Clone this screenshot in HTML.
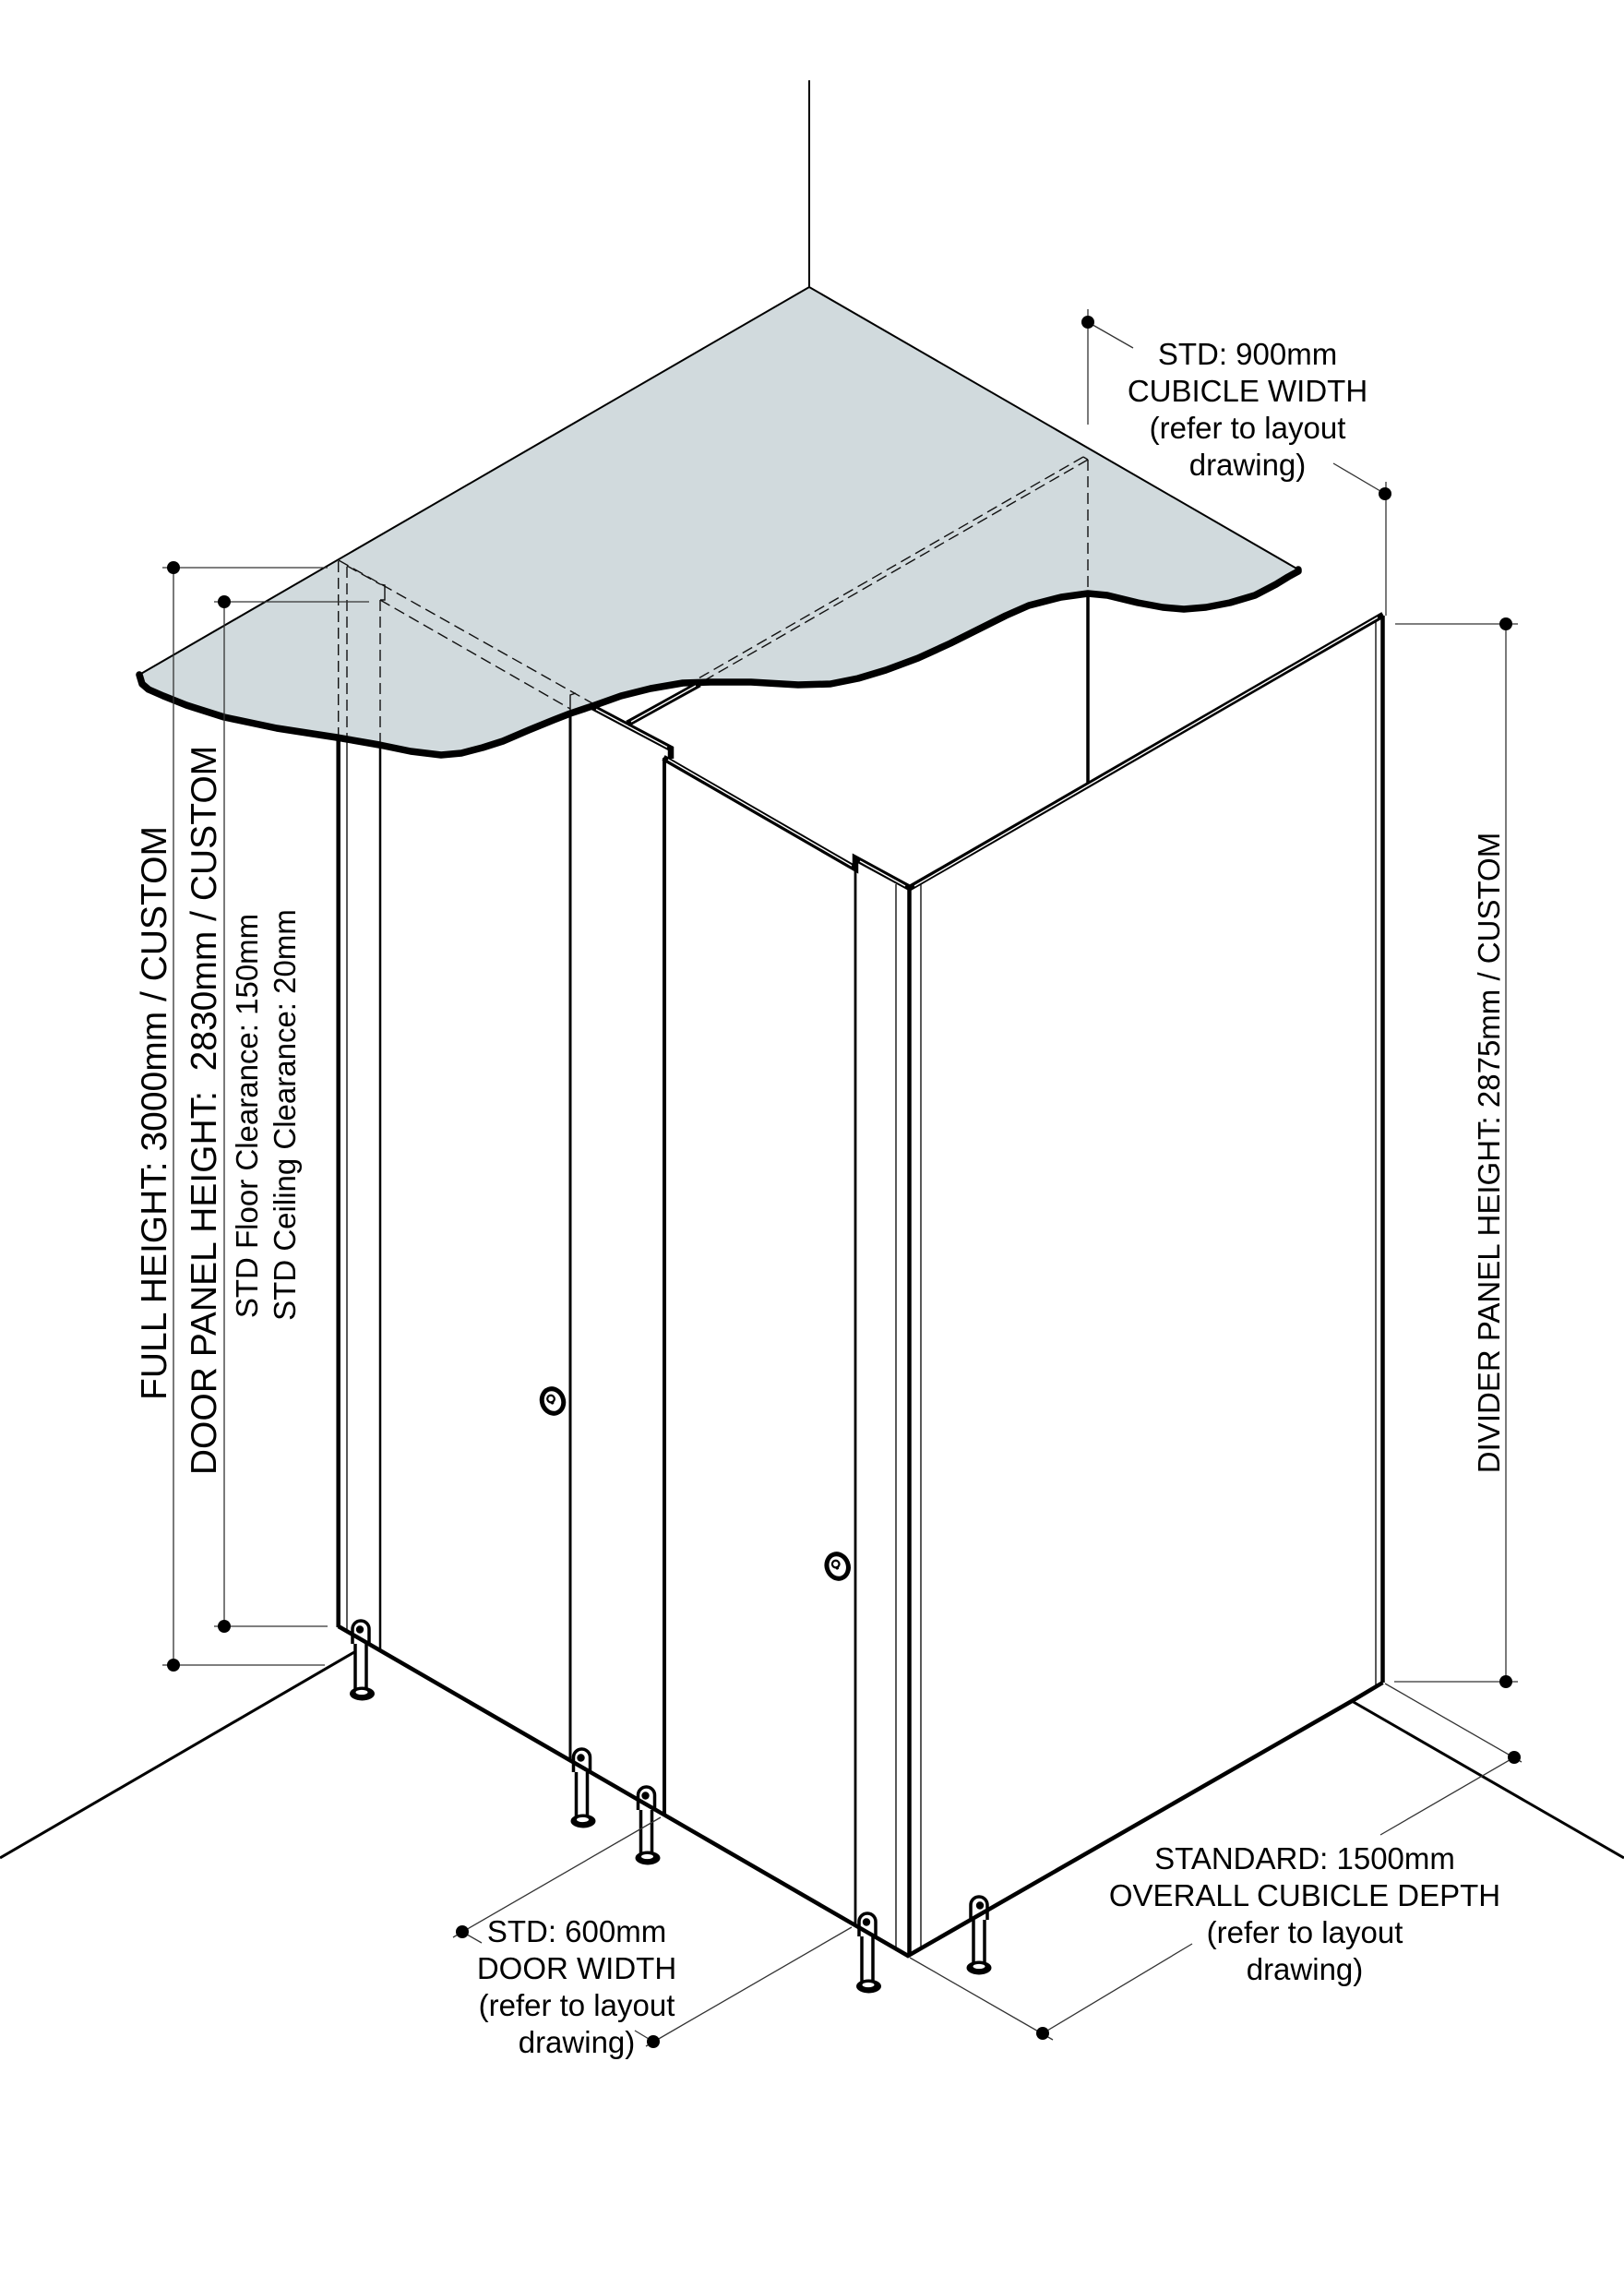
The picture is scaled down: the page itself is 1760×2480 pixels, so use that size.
<!DOCTYPE html>
<html>
<head>
<meta charset="utf-8">
<style>
  html,body{margin:0;padding:0;background:#fff;}
  svg{display:block;}
  text{font-family:"Liberation Sans",Arial,sans-serif;fill:#000;}
</style>
</head>
<body>
<svg width="1760" height="2480" viewBox="0 0 1760 2480" xmlns="http://www.w3.org/2000/svg">
  <rect width="1760" height="2480" fill="#fff"/>

  <!-- wall corner line -->
  <line x1="877" y1="87" x2="877" y2="311" stroke="#000" stroke-width="2"/>

  <!-- ceiling fill -->
  <polygon fill="#d1dadd" points="877,311 1407,617 1407,619 1396,625 1383,633 1360,645 1333,653 1307,658 1283,660 1260,658 1233,653 1200,645 1179,643 1150,647 1115,656 1090,667 1062,681 1030,697 995,713 960,726 930,735 900,741 865,742 814,739 770,739 740,740 705,746 673,754 642,765 618,773 600,780 573,791 545,803 523,810 500,816 478,818 445,814 411,807 365,799 300,789 243,777 202,764 177,754 161,747 154,741 151,731"/>

  <!-- hidden (dashed) lines over ceiling -->
  <g stroke="#111" stroke-width="1.4" fill="none" stroke-dasharray="12 6">
    <line x1="366.7" y1="608" x2="366.7" y2="797"/>
    <line x1="376" y1="614" x2="376" y2="799"/>
    <line x1="412" y1="650" x2="412" y2="808"/>
    <line x1="367" y1="607" x2="642" y2="762"/>
    <line x1="376" y1="613" x2="412" y2="633"/>
    <line x1="412" y1="650" x2="618" y2="768"/>
    <line x1="1179" y1="498" x2="757" y2="741"/>
    <line x1="1174" y1="495" x2="750" y2="739"/>
    <line x1="1179" y1="498" x2="1179" y2="645"/>
  </g>
  <g stroke="#111" stroke-width="1.4" fill="none">
    <polyline points="412,633 417,634 417,650 412,650"/>
    <line x1="1174" y1="495" x2="1179" y2="498"/>
    <polyline points="624,751 618,753 618,773"/>
  </g>

  <!-- ceiling edges -->
  <polyline points="151,731 877,311 1407,617" fill="none" stroke="#000" stroke-width="2"/>
  <polyline fill="none" stroke="#000" stroke-width="7.5" stroke-linejoin="round" stroke-linecap="round" points="1407,617 1407,619 1396,625 1383,633 1360,645 1333,653 1307,658 1283,660 1260,658 1233,653 1200,645 1179,643 1150,647 1115,656 1090,667 1062,681 1030,697 995,713 960,726 930,735 900,741 865,742 814,739 770,739 740,740 705,746 673,754 642,765 618,773 600,780 573,791 545,803 523,810 500,816 478,818 445,814 411,807 365,799 300,789 243,777 202,764 177,754 161,747 154,741 151,731"/>

  <!-- floor / wall lines -->
  <line x1="0" y1="2013" x2="384" y2="1790" stroke="#000" stroke-width="3"/>
  <line x1="1465" y1="1843" x2="1760" y2="2013" stroke="#000" stroke-width="3"/>

  <!-- vertical panel lines -->
  <g stroke="#000" fill="none">
    <line x1="366.7" y1="797" x2="366.7" y2="1763" stroke-width="4.5"/>
    <line x1="376" y1="799" x2="376" y2="1768" stroke-width="1.3"/>
    <line x1="412" y1="808" x2="412" y2="1789" stroke-width="2.5"/>
    <line x1="618" y1="772" x2="618" y2="1908" stroke-width="3"/>
    <line x1="720" y1="821" x2="720" y2="1967" stroke-width="4"/>
    <line x1="927" y1="940" x2="927" y2="2087" stroke-width="2.8"/>
    <line x1="971" y1="958" x2="971" y2="2112" stroke-width="1.3"/>
    <line x1="985.5" y1="962" x2="985.5" y2="2119" stroke-width="4.5"/>
    <line x1="998" y1="958" x2="998" y2="2112" stroke-width="1.3"/>
    <line x1="1491" y1="671" x2="1491" y2="1826" stroke-width="1.3"/>
    <line x1="1498.5" y1="667" x2="1498.5" y2="1823" stroke-width="4.5"/>
    <line x1="1179" y1="643" x2="1179" y2="852" stroke-width="3.5"/>
  </g>

  <!-- panel top double lines -->
  <g fill="none" stroke-linejoin="miter">
    <polyline points="642,766 727,811 727,822" stroke="#000" stroke-width="6.5"/>
    <line x1="646" y1="768.5" x2="723" y2="809.5" stroke="#fff" stroke-width="1.4"/>
    <polyline points="719,821 927,941 927,930 986,962 1499,666" stroke="#000" stroke-width="6.5"/>
    <line x1="724" y1="823" x2="923" y2="938" stroke="#fff" stroke-width="1.4"/>
    <line x1="932" y1="933" x2="981" y2="960" stroke="#fff" stroke-width="1.4"/>
    <line x1="991" y1="960" x2="1493" y2="669" stroke="#fff" stroke-width="1.4"/>
    <line x1="680" y1="784" x2="758" y2="741" stroke="#000" stroke-width="7"/>
    <line x1="684" y1="782" x2="754" y2="743" stroke="#fff" stroke-width="1.4"/>
  </g>

  <!-- door handles -->
  <g fill="none" stroke="#000">
    <g transform="translate(599,1518) rotate(-20)">
      <ellipse rx="11.5" ry="13.5" stroke-width="5"/>
      <circle cx="-1" cy="-3" r="3.8" stroke-width="2.2"/>
      <circle cx="-1" cy="1.5" r="1.8" fill="#000" stroke="none"/>
    </g>
    <g transform="translate(907.7,1697) rotate(-20)">
      <ellipse rx="11.5" ry="13.5" stroke-width="5"/>
      <circle cx="-1" cy="-3" r="3.8" stroke-width="2.2"/>
      <circle cx="-1" cy="1.5" r="1.8" fill="#000" stroke="none"/>
    </g>
  </g>

  <!-- legs -->
  <g id="legs">
    <g transform="translate(391,1756)">
      <rect x="-6" y="16" width="12" height="63" fill="#fff" stroke="#000" stroke-width="3.5"/>
      <ellipse cx="1.5" cy="79" rx="13.5" ry="7.5" fill="#000"/>
      <ellipse cx="1" cy="77.5" rx="6.5" ry="2.6" fill="#fff"/>
      <path d="M-9,25 V9 A9,9 0 0 1 9,9 V25" fill="#fff" stroke="#000" stroke-width="3.5"/>
      <circle cx="-1" cy="9.5" r="4.2" fill="#000"/>
    </g>
    <g transform="translate(630.5,1895)">
      <rect x="-6" y="16" width="12" height="62" fill="#fff" stroke="#000" stroke-width="3.5"/>
      <ellipse cx="1.5" cy="78" rx="13.5" ry="7.5" fill="#000"/>
      <ellipse cx="1" cy="76.5" rx="6.5" ry="2.6" fill="#fff"/>
      <path d="M-9,25 V9 A9,9 0 0 1 9,9 V25" fill="#fff" stroke="#000" stroke-width="3.5"/>
      <circle cx="-1" cy="9.5" r="4.2" fill="#000"/>
    </g>
    <g transform="translate(700.5,1936)">
      <rect x="-6" y="16" width="12" height="61" fill="#fff" stroke="#000" stroke-width="3.5"/>
      <ellipse cx="1.5" cy="77" rx="13.5" ry="7.5" fill="#000"/>
      <ellipse cx="1" cy="75.5" rx="6.5" ry="2.6" fill="#fff"/>
      <path d="M-9,25 V9 A9,9 0 0 1 9,9 V25" fill="#fff" stroke="#000" stroke-width="3.5"/>
      <circle cx="-1" cy="9.5" r="4.2" fill="#000"/>
    </g>
    <g transform="translate(940,2073)">
      <rect x="-6" y="16" width="12" height="63" fill="#fff" stroke="#000" stroke-width="3.5"/>
      <ellipse cx="1.5" cy="79" rx="13.5" ry="7.5" fill="#000"/>
      <ellipse cx="1" cy="77.5" rx="6.5" ry="2.6" fill="#fff"/>
      <path d="M-9,25 V9 A9,9 0 0 1 9,9 V25" fill="#fff" stroke="#000" stroke-width="3.5"/>
      <circle cx="-1" cy="9.5" r="4.2" fill="#000"/>
    </g>
    <g transform="translate(1061,2055)">
      <rect x="-6" y="16" width="12" height="61" fill="#fff" stroke="#000" stroke-width="3.5"/>
      <ellipse cx="0" cy="77" rx="13.5" ry="7.5" fill="#000"/>
      <ellipse cx="0" cy="75.5" rx="6.5" ry="2.6" fill="#fff"/>
      <path d="M-9,25 V9 A9,9 0 0 1 9,9 V25" fill="#fff" stroke="#000" stroke-width="3.5"/>
      <circle cx="1" cy="9.5" r="4.2" fill="#000"/>
    </g>
  </g>

  <!-- panel bottom lines -->
  <polyline points="366.7,1762 984,2119 1465,1843 1498.5,1823" fill="none" stroke="#000" stroke-width="4.5" stroke-linejoin="miter"/>

  <!-- dimension lines -->
  <g stroke="#333" stroke-width="1.3" fill="none">
    <line x1="176" y1="615" x2="355" y2="615"/>
    <line x1="188" y1="615" x2="188" y2="1804"/>
    <line x1="176" y1="1804" x2="352" y2="1804"/>
    <line x1="232" y1="652" x2="400" y2="652"/>
    <line x1="243" y1="652" x2="243" y2="1762"/>
    <line x1="232" y1="1762" x2="355" y2="1762"/>
    <line x1="1512" y1="676" x2="1645" y2="676"/>
    <line x1="1632" y1="676" x2="1632" y2="1822"/>
    <line x1="1511" y1="1822" x2="1645" y2="1822"/>
    <line x1="1179" y1="335" x2="1179" y2="460"/>
    <line x1="1502" y1="522" x2="1502" y2="667"/>
    <line x1="1179" y1="349" x2="1228" y2="377"/>
    <line x1="1445" y1="502" x2="1501" y2="535"/>
    <line x1="716" y1="1969" x2="491" y2="2099"/>
    <line x1="501" y1="2093" x2="522" y2="2105"/>
    <line x1="923" y1="2088" x2="700" y2="2217"/>
    <line x1="688" y1="2200" x2="708" y2="2212"/>
    <line x1="1501" y1="1824" x2="1649" y2="1909"/>
    <line x1="1641" y1="1904" x2="1496" y2="1988"/>
    <line x1="986" y1="2121" x2="1141" y2="2210"/>
    <line x1="1130" y1="2203" x2="1292" y2="2106"/>
  </g>
  <g fill="#000">
    <circle cx="188" cy="615" r="7"/>
    <circle cx="188" cy="1804" r="7"/>
    <circle cx="243" cy="652" r="7"/>
    <circle cx="243" cy="1762" r="7"/>
    <circle cx="1632" cy="676" r="7"/>
    <circle cx="1632" cy="1822" r="7"/>
    <circle cx="1179" cy="349" r="7"/>
    <circle cx="1501" cy="535" r="7"/>
    <circle cx="501" cy="2093" r="7"/>
    <circle cx="708" cy="2212" r="7"/>
    <circle cx="1641" cy="1904" r="7"/>
    <circle cx="1130" cy="2203" r="7"/>
  </g>

  <!-- texts -->
  <g font-size="33" text-anchor="middle">
    <text x="1352" y="395">STD: 900mm</text>
    <text x="1352" y="435">CUBICLE WIDTH</text>
    <text x="1352" y="475">(refer to layout</text>
    <text x="1352" y="515">drawing)</text>

    <text x="625" y="2104">STD: 600mm</text>
    <text x="625" y="2144">DOOR WIDTH</text>
    <text x="625" y="2184">(refer to layout</text>
    <text x="625" y="2224">drawing)</text>

    <text x="1414" y="2025">STANDARD: 1500mm</text>
    <text x="1414" y="2065">OVERALL CUBICLE DEPTH</text>
    <text x="1414" y="2105">(refer to layout</text>
    <text x="1414" y="2145">drawing)</text>

    <text transform="translate(279,1209) rotate(-90)">STD Floor Clearance: 150mm</text>
    <text transform="translate(320,1208) rotate(-90)">STD Ceiling Clearance: 20mm</text>
    <text transform="translate(1625,1249) rotate(-90)">DIVIDER PANEL HEIGHT: 2875mm / CUSTOM</text>
  </g>
  <g font-size="39" text-anchor="middle">
    <text transform="translate(180,1206) rotate(-90)">FULL HEIGHT: 3000mm / CUSTOM</text>
    <text transform="translate(234,1203) rotate(-90)">DOOR PANEL HEIGHT:&#160; 2830mm / CUSTOM</text>
  </g>
</svg>
</body>
</html>
